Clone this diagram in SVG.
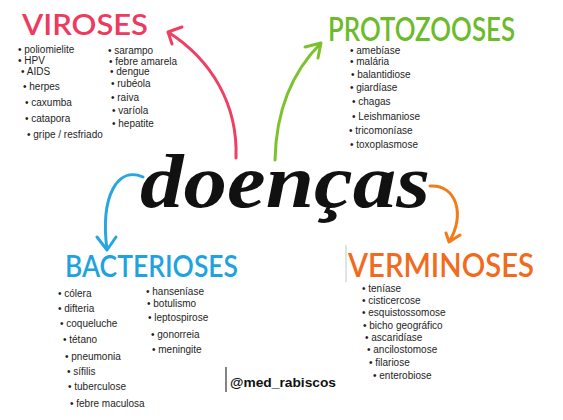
<svg xmlns="http://www.w3.org/2000/svg" width="563" height="420" viewBox="0 0 563 420">
<defs>
<style>
.t{font-family:"Liberation Sans",Arial,sans-serif;font-size:10px;fill:#1e1e1e}
.h{font-family:Lato,"Open Sans",sans-serif;font-weight:600}
.a{fill:none;stroke-width:3;stroke-linecap:round;stroke-linejoin:round}
</style>
</defs>
<rect width="563" height="420" fill="#ffffff"/>
<g id="connectors">
<path class="a" stroke="#ef3f63" d="M236,158 C238,105 212,60 168,32 M172,44 L168,32 L182,27"/>
<path class="a" stroke="#7cc22a" d="M275,160 C276,110 292,72 321,43 M305,47 L321,43 L318,58"/>
<path class="a" stroke="#28a6e0" d="M143,177 C118,166 100,195 107,250 M97,237 L107,250 L116,237"/>
<path class="a" stroke="#f07c1c" stroke-width="2" d="M430,186 C456,184 466,215 449,242 M446,233 L449,242 L460,235"/>
</g>
<g id="center">
<text x="140" y="207" font-family="'Liberation Serif',serif" font-style="italic" font-weight="bold" font-size="76" textLength="290" lengthAdjust="spacingAndGlyphs" fill="#111">doenças</text>
</g>
<g id="viroses">
<text class="h" x="22" y="35" font-size="28" fill="#ee3a5e" textLength="126" lengthAdjust="spacingAndGlyphs">VIROSES</text>
<text class="t"><tspan x="18" y="53">• poliomielite</tspan><tspan x="18" y="64">• HPV</tspan><tspan x="21" y="75">• AIDS</tspan><tspan x="23" y="90">• herpes</tspan><tspan x="25" y="106">• caxumba</tspan><tspan x="25" y="122">• catapora</tspan><tspan x="27" y="138">• gripe / resfriado</tspan></text>
<text class="t"><tspan x="108" y="54">• sarampo</tspan><tspan x="109" y="65">• febre amarela</tspan><tspan x="110" y="75">• dengue</tspan><tspan x="111" y="87">• rubéola</tspan><tspan x="111" y="101">• raiva</tspan><tspan x="112" y="114">• varíola</tspan><tspan x="112" y="127">• hepatite</tspan></text>
</g>
<g id="protozooses">
<text class="h" x="328" y="41" font-size="32" fill="#6cbb2a" textLength="187" lengthAdjust="spacingAndGlyphs">PROTOZOOSES</text>
<text class="t"><tspan x="350" y="54">• amebíase</tspan><tspan x="350" y="65">• malária</tspan><tspan x="351" y="78">• balantidiose</tspan><tspan x="350" y="91">• giardíase</tspan><tspan x="352" y="105">• chagas</tspan><tspan x="352" y="120">• Leishmaniose</tspan><tspan x="349" y="134">• tricomoníase</tspan><tspan x="350" y="148">• toxoplasmose</tspan></text>
</g>
<g id="bacterioses">
<text class="h" x="65" y="277" font-size="30" fill="#1ea3df" textLength="173" lengthAdjust="spacingAndGlyphs">BACTERIOSES</text>
<text class="t"><tspan x="58" y="297">• cólera</tspan><tspan x="58" y="312">• difteria</tspan><tspan x="60" y="327">• coqueluche</tspan><tspan x="63" y="343">• tétano</tspan><tspan x="65" y="360">• pneumonia</tspan><tspan x="67" y="375">• sífilis</tspan><tspan x="68" y="390">• tuberculose</tspan><tspan x="70" y="407">• febre maculosa</tspan></text>
<text class="t"><tspan x="146" y="295">• hanseníase</tspan><tspan x="147" y="307">• botulismo</tspan><tspan x="148" y="321">• leptospirose</tspan><tspan x="151" y="338">• gonorreia</tspan><tspan x="152" y="353">• meningite</tspan></text>
</g>
<g id="verminoses">
<line x1="346" y1="245" x2="346" y2="282" stroke="#d8d8d8" stroke-width="1.5"/>
<text class="h" x="348" y="277" font-size="33" fill="#f26a1c" textLength="186" lengthAdjust="spacingAndGlyphs">VERMINOSES</text>
<text class="t"><tspan x="362" y="292">• teníase</tspan><tspan x="362" y="304">• cisticercose</tspan><tspan x="362" y="316">• esquistossomose</tspan><tspan x="363" y="329">• bicho geográfico</tspan><tspan x="365" y="341">• ascaridíase</tspan><tspan x="367" y="353">• ancilostomose</tspan><tspan x="369" y="366">• filariose</tspan><tspan x="373" y="379">• enterobiose</tspan></text>
</g>
<g id="signature">
<line x1="226" y1="367" x2="226" y2="392" stroke="#333" stroke-width="1.2"/>
<text x="230" y="387" font-family="'Liberation Sans',Arial,sans-serif" font-weight="bold" font-size="13" fill="#111" textLength="106" lengthAdjust="spacingAndGlyphs">@med_rabiscos</text>
</g>
</svg>
